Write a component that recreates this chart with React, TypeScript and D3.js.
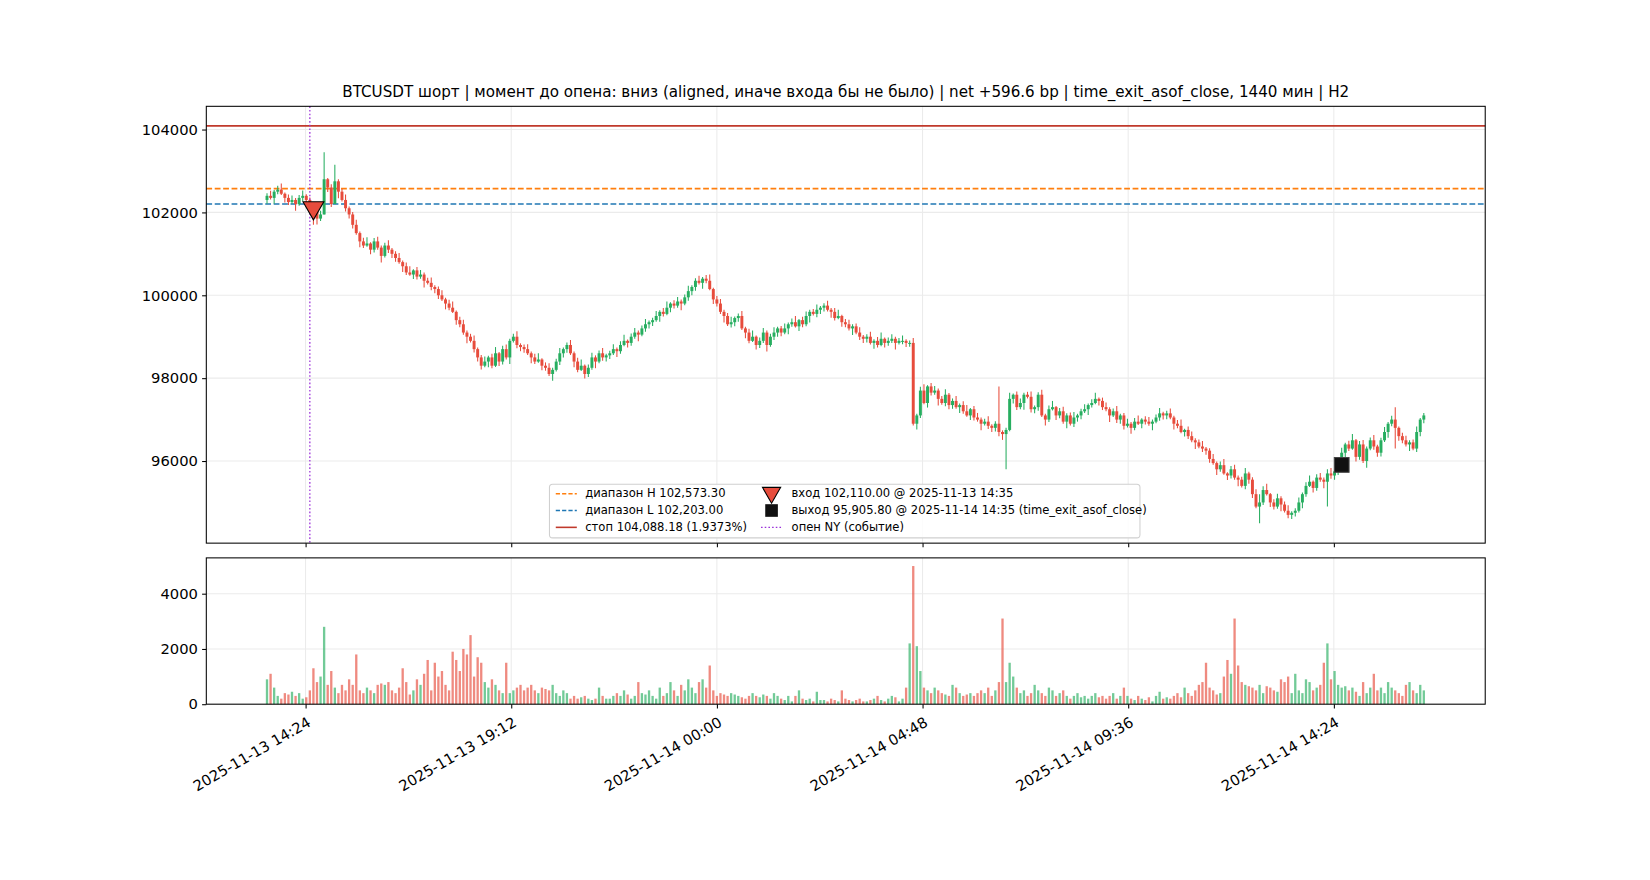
import { useRef, useEffect } from 'react';
import * as d3 from 'd3';

// 5-minute closes, 2025-11-13 13:30 UTC onward (12 per hour)
const closes: number[] = [
  102400, 102350, 102500, 102550, 102450, 102350, 102250, 102300, 102200, 102350, 102400, 102300,
  102250, 102050, 101850, 101950, 102800, 102600, 102200, 102750, 102500, 102300, 102100, 101950,
  101700, 101500, 101300, 101200, 101250, 101100, 101300, 101150, 100950, 101200, 101100, 101000,
  100900, 100800, 100700, 100550, 100500, 100600, 100450, 100500, 100350, 100300, 100200, 100150,
  100000, 99900, 99800, 99700, 99600, 99400, 99300, 99100, 99000, 98900, 98700, 98500,
  98300, 98400, 98500, 98300, 98600, 98400, 98700, 98500, 98900, 99000, 98800, 98750,
  98700, 98600, 98500, 98400, 98450, 98300, 98250, 98100, 98200, 98400, 98600, 98700,
  98800, 98600, 98400, 98200, 98300, 98100, 98250, 98500, 98400, 98600, 98500, 98550,
  98600, 98700, 98650, 98800, 98900, 98850, 99000, 99100, 99050, 99200, 99300, 99350,
  99400, 99500, 99600, 99550, 99700, 99800, 99750, 99850, 99800, 99950, 100100, 100200,
  100350, 100300, 100400, 100350, 100150, 99900, 99800, 99600, 99500, 99300, 99350, 99450,
  99500, 99200, 99100, 98900, 99000, 98800, 98900, 99100, 98800, 99000, 99100, 99200,
  99100, 99200, 99300, 99350, 99250, 99400, 99300, 99500, 99600, 99550, 99650, 99700,
  99750, 99650, 99600, 99450, 99500, 99350, 99300, 99200, 99250, 99100, 99000, 98950,
  99000, 98850, 98900, 98800, 98950, 98850, 98900, 98950, 98850, 98900, 98900, 98850,
  98850, 96900, 97100, 97700, 97400, 97800, 97650, 97700, 97500, 97400, 97600, 97350,
  97450, 97300, 97350, 97200, 97100, 97250, 97050, 97000, 96900, 96950, 96850, 96800,
  96900, 96700, 96650, 96750, 97500, 97600, 97300, 97400, 97600, 97550, 97250, 97300,
  97600, 97100, 97000, 97250, 97300, 97100, 97200, 96950, 97100, 96900, 97050, 97100,
  97200, 97250, 97350, 97400, 97500, 97450, 97300, 97250, 97100, 97200, 97000, 97100,
  96850, 96900, 96800, 96950, 96900, 97000, 96950, 96900, 96950, 97050, 97150, 97100,
  97150, 97050, 96900, 96850, 96700, 96750, 96600, 96500, 96450, 96350, 96300, 96250,
  96050, 95950, 95800, 95900, 95700, 95650, 95800, 95600, 95550, 95400, 95700, 95550,
  95200, 94900, 95000, 95300, 95200, 95000, 94900, 95100, 94950, 94800, 94700, 94750,
  94800, 95000, 95200, 95400, 95500, 95350, 95600, 95550, 95500, 95700, 95650, 95750,
  95900, 96200, 96400, 96300, 96500, 96100, 96400, 96000, 96300, 96500, 96350, 96200,
  96500, 96700, 96900, 97000, 96800, 96600, 96500, 96400, 96450, 96300, 96700, 97000,
  97100,
];

const volumes: number[] = [
  900, 1100, 600, 300, 200, 400, 350, 450, 300, 400, 200, 250,
  500, 1300, 800, 1000, 2800, 700, 1200, 600, 400, 700, 500, 900,
  700, 1800, 500, 400, 600, 500, 400, 700, 750, 700, 800, 500,
  400, 600, 1300, 800, 350, 500, 900, 700, 1100, 1600, 500, 1500,
  1000, 1200, 700, 500, 1900, 1600, 1200, 2000, 1800, 2500, 1000, 1700,
  1500, 800, 600, 900, 700, 500, 400, 1500, 400, 500, 600, 700,
  500, 600, 700, 500, 400, 600, 550, 500, 700, 400, 300, 500,
  400, 200, 300, 200, 250, 300, 200, 150, 200, 600, 300, 200,
  200, 300, 400, 300, 500, 350, 200, 300, 800, 400, 350, 500,
  300, 200, 600, 300, 400, 800, 500, 300, 700, 500, 900, 600,
  400, 800, 900, 600, 1400, 500, 300, 400, 350, 300, 400, 350,
  300, 250, 200, 300, 400, 300, 250, 350, 300, 200, 400, 300,
  200, 150, 300, 100, 300, 500, 200, 150, 200, 100, 450, 150,
  150, 100, 200, 150, 100, 500, 200, 150, 100, 150, 200, 100,
  100, 150, 200, 300, 150, 100, 200, 300, 250, 100, 200, 600,
  2200, 5000, 2100, 1200, 600, 500, 400, 600, 500, 400, 350, 300,
  700, 600, 400, 300, 350, 400, 300, 400, 500, 400, 600, 300,
  500, 800, 3100, 800, 1500, 1000, 600, 400, 500, 300, 400, 700,
  500, 400, 300, 600, 500, 300, 400, 500, 300, 200, 300, 400,
  250, 300, 200, 300, 400, 250, 300, 200, 300, 400, 200, 300,
  600, 300, 200, 150, 300, 200, 150, 250, 100, 300, 450, 200,
  250, 200, 300, 400, 250, 600, 400, 300, 500, 700, 800, 1500,
  600, 500, 350, 400, 1000, 1600, 1100, 3100, 1400, 800, 700, 650,
  600, 500, 700, 400, 650, 600, 500, 450, 900, 800, 1000, 400,
  1100, 500, 400, 900, 800, 500, 600, 700, 1500, 2200, 900, 1200,
  700, 600, 650, 500, 600, 450, 300, 800, 400, 600, 1100, 500,
  600, 400, 800, 600, 500, 400, 300, 700, 800, 500, 400, 700,
  500,
];

// typical wick extensions within an hour (up / down)
const wickUp = [60, 120, 40, 90, 150, 30, 80, 110, 50, 70, 130, 40];
const wickDn = [90, 40, 140, 60, 30, 110, 70, 50, 160, 40, 80, 100];
// bars with unusually long wicks: index -> [high, low]
const extremes: Record<number, [number, number]> = {
  16: [103450, 101950], 19: [103150, 102200], 13: [102250, 101700],
  205: [97800, 96600], 207: [96800, 95800], 278: [95200, 94500],
  297: [95800, 94900], 316: [97300, 96300],
};

const startTime = Date.UTC(2025, 10, 13, 13, 30);
const firstOpen = 102300;
const rangeHigh = 102573.3;
const rangeLow = 102203.0;
const stopLevel = 104088.18;
const entryTime = Date.UTC(2025, 10, 13, 14, 35);
const entryPrice = 102110.0;
const exitTime = Date.UTC(2025, 10, 14, 14, 35);
const exitPrice = 95905.8;
const nyOpen = Date.UTC(2025, 10, 13, 14, 30);
const priceTicks = [96000, 98000, 100000, 102000, 104000];
const volTicks = [0, 2000, 4000];
const timeTicks = [0, 1, 2, 3, 4, 5].map(i => Date.UTC(2025, 10, 13, 14, 24) + i * 4.8 * 3600e3);
const title = 'BTCUSDT шорт | момент до опена: вниз (aligned, иначе входа бы не было) | net +596.6 bp | time_exit_asof_close, 1440 мин | H2';

const GREEN = '#27ae60';
const RED = '#e74c3c';

export default function App() {
  const ref = useRef<SVGSVGElement>(null);

  useEffect(() => {
    if (!ref.current) return;
    const root = d3.select(ref.current);
    root.selectAll('*').remove();
    const font = 'DejaVu Sans, sans-serif';

    root.append('rect').attr('width', 1650).attr('height', 880).attr('fill', '#fff');
    const svg = root.append('g').attr('transform', 'scale(1.0526)');

    const L = 196, R = 1411;
    const pTop = 101, pBot = 516, vTop = 530, vBot = 669;

    const bars = closes.map((c, i) => {
      const o = i === 0 ? firstOpen : closes[i - 1];
      const ex = extremes[i];
      const h = ex ? ex[0] : Math.max(o, c) + wickUp[i % 12];
      const l = ex ? ex[1] : Math.min(o, c) - wickDn[i % 12];
      return { t: startTime + i * 300e3, o, c, h, l, v: volumes[i] };
    });

    const x = d3.scaleUtc()
      .domain([Date.UTC(2025, 10, 13, 12, 5), Date.UTC(2025, 10, 14, 17, 56)])
      .range([L, R]);
    const y = d3.scaleLinear().domain([94018, 104560]).range([pBot, pTop]);
    const yv = d3.scaleLinear().domain([0, 5295]).range([vBot, vTop]);

    svg.append('text').attr('x', (L + R) / 2).attr('y', 92).attr('text-anchor', 'middle')
      .attr('font-family', font).attr('font-size', 14.4).text(title);

    const grid = '#ebebeb';
    [[pTop, pBot], [vTop, vBot]].forEach(([t, b]) => {
      timeTicks.forEach(tt => svg.append('line').attr('x1', x(tt)).attr('x2', x(tt))
        .attr('y1', t).attr('y2', b).attr('stroke', grid));
    });
    priceTicks.forEach(p => svg.append('line').attr('x1', L).attr('x2', R)
      .attr('y1', y(p)).attr('y2', y(p)).attr('stroke', grid));
    volTicks.forEach(p => svg.append('line').attr('x1', L).attr('x2', R)
      .attr('y1', yv(p)).attr('y2', yv(p)).attr('stroke', grid));

    // levels
    const hl = (v: number, c: string, dash: string | null, w: number) => {
      const ln = svg.append('line').attr('x1', L).attr('x2', R).attr('y1', y(v)).attr('y2', y(v))
        .attr('stroke', c).attr('stroke-width', w);
      if (dash) ln.attr('stroke-dasharray', dash);
    };
    hl(stopLevel, '#c0392b', null, 1.5);
    hl(rangeHigh, '#ff7f0e', '5.5,2.5', 1.5);
    hl(rangeLow, '#1f77b4', '5.5,2.5', 1.5);

    // candles + volume
    const cw = 2.8;
    const g = svg.append('g');
    bars.forEach(b => {
      const col = b.c >= b.o ? GREEN : RED;
      const cx = x(b.t);
      g.append('line').attr('x1', cx).attr('x2', cx).attr('y1', y(b.h)).attr('y2', y(b.l))
        .attr('stroke', col).attr('stroke-width', 1);
      g.append('rect').attr('x', cx - cw / 2).attr('width', cw)
        .attr('y', y(Math.max(b.o, b.c))).attr('height', Math.max(1, Math.abs(y(b.o) - y(b.c))))
        .attr('fill', col);
      svg.append('rect').attr('x', cx - 1.1).attr('width', 2.2)
        .attr('y', yv(b.v)).attr('height', yv(0) - yv(b.v)).attr('fill', col).attr('opacity', 0.65);
    });

    // NY open
    svg.append('line')
      .attr('x1', x(nyOpen)).attr('x2', x(nyOpen)).attr('y1', pTop).attr('y2', pBot)
      .attr('stroke', '#9b30d9').attr('stroke-width', 1.2).attr('stroke-dasharray', '1.5,2');

    // entry / exit markers
    const tri = d3.symbol().type(d3.symbolTriangle).size(170);
    svg.append('path').attr('d', tri()).attr('transform', `translate(${x(entryTime)},${y(entryPrice)}) rotate(180)`)
      .attr('fill', RED).attr('stroke', '#000').attr('stroke-width', 1);
    svg.append('rect').attr('x', x(exitTime) - 7).attr('y', y(exitPrice) - 7).attr('width', 14).attr('height', 14)
      .attr('fill', '#111').attr('stroke', '#444');

    // frames
    [[pTop, pBot], [vTop, vBot]].forEach(([t, b]) => svg.append('rect').attr('x', L).attr('y', t)
      .attr('width', R - L).attr('height', b - t).attr('fill', 'none').attr('stroke', '#000').attr('stroke-width', 1));

    // axes
    const tickTxt = (sel: d3.Selection<SVGGElement, unknown, null, undefined>) => {
      sel.select('.domain').remove();
      sel.selectAll('text').attr('font-family', font).attr('font-size', 14).attr('fill', '#000');
    };
    svg.append('g').attr('transform', `translate(${L},0)`)
      .call(d3.axisLeft(y).tickValues(priceTicks).tickFormat(d3.format('d')).tickSize(4).tickPadding(4))
      .call(tickTxt);
    svg.append('g').attr('transform', `translate(${L},0)`)
      .call(d3.axisLeft(yv).tickValues(volTicks).tickFormat(d3.format('d')).tickSize(4).tickPadding(4))
      .call(tickTxt);
    svg.append('g').attr('transform', `translate(0,${pBot})`)
      .call(d3.axisBottom(x).tickValues(timeTicks.map(t => new Date(t))).tickFormat(() => '').tickSize(4))
      .call(tickTxt);
    const fmt = d3.utcFormat('%Y-%m-%d %H:%M');
    const xa = svg.append('g').attr('transform', `translate(0,${vBot})`)
      .call(d3.axisBottom(x).tickValues(timeTicks.map(t => new Date(t))).tickFormat(d => fmt(d as Date)).tickSize(4))
      .call(tickTxt);
    xa.selectAll('text').attr('text-anchor', 'end').attr('dy', 0)
      .attr('transform', 'translate(2,14) rotate(-30)');

    // legend
    const lg = svg.append('g').attr('transform', 'translate(522,460)');
    lg.append('rect').attr('width', 561).attr('height', 51).attr('rx', 3)
      .attr('fill', 'rgba(255,255,255,0.85)').attr('stroke', '#d0d0d0');
    const fs = 11;
    const items: [string, string, string | null, number][] = [
      ['диапазон H 102,573.30', '#ff7f0e', '4,2', 0],
      ['диапазон L 102,203.00', '#1f77b4', '4,2', 1],
      ['стоп 104,088.18 (1.9373%)', '#c0392b', null, 2],
    ];
    items.forEach(([t, c, d, i]) => {
      const yy = 9 + i * 16;
      const ln = lg.append('line').attr('x1', 6).attr('x2', 26).attr('y1', yy).attr('y2', yy)
        .attr('stroke', c).attr('stroke-width', 1.5);
      if (d) ln.attr('stroke-dasharray', d);
      lg.append('text').attr('x', 34).attr('y', yy + 3.5).attr('font-family', font).attr('font-size', fs).text(t);
    });
    lg.append('path').attr('d', d3.symbol().type(d3.symbolTriangle).size(130)())
      .attr('transform', 'translate(211,8) rotate(180)').attr('fill', RED).attr('stroke', '#000');
    lg.append('text').attr('x', 230).attr('y', 12.5).attr('font-family', font).attr('font-size', fs)
      .text('вход 102,110.00 @ 2025-11-13 14:35');
    lg.append('rect').attr('x', 205).attr('y', 19).attr('width', 12).attr('height', 12).attr('fill', '#111');
    lg.append('text').attr('x', 230).attr('y', 28.5).attr('font-family', font).attr('font-size', fs)
      .text('выход 95,905.80 @ 2025-11-14 14:35 (time_exit_asof_close)');
    lg.append('line').attr('x1', 201).attr('x2', 221).attr('y1', 41).attr('y2', 41)
      .attr('stroke', '#9b30d9').attr('stroke-width', 1.2).attr('stroke-dasharray', '1.5,2');
    lg.append('text').attr('x', 230).attr('y', 44.5).attr('font-family', font).attr('font-size', fs)
      .text('опен NY (событие)');
  }, []);

  return <svg ref={ref} width={1650} height={880} style={{ display: 'block', margin: -8 }} />;
}
